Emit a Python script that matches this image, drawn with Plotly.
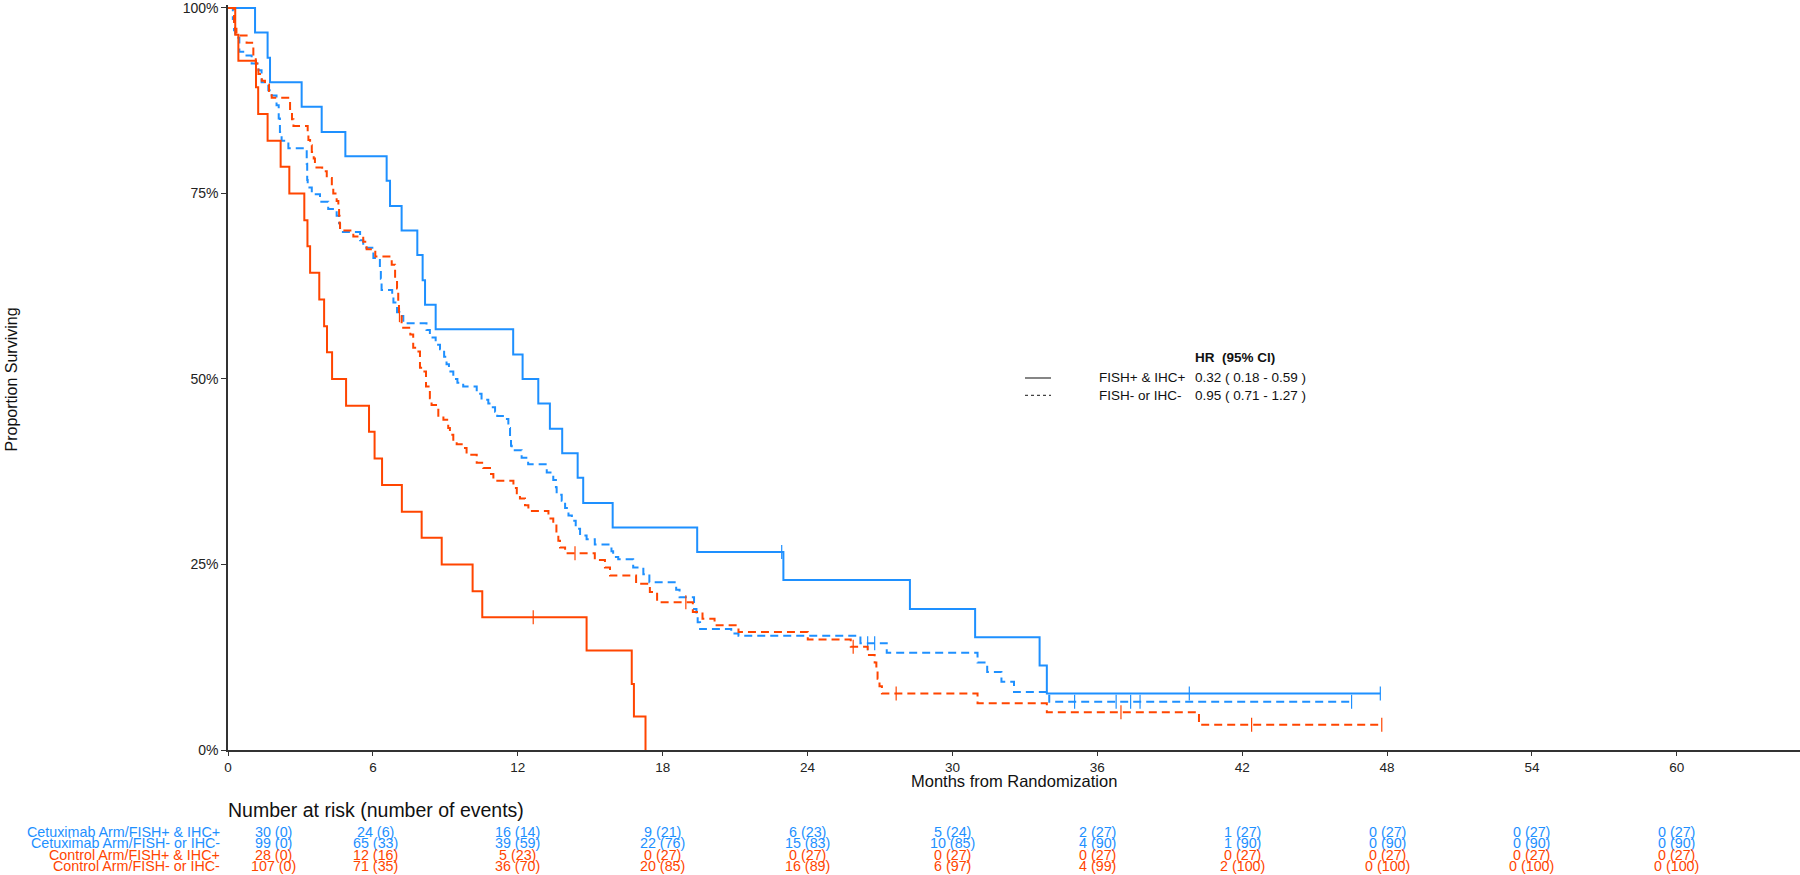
import plotly.graph_objects as go

# ---------------- data ----------------
# Cetuximab Arm / FISH+ & IHC+  (blue, solid)
cet_pos_t = [0, 1.12, 1.64, 1.74, 3.05, 3.88, 4.86, 6.57, 6.71, 7.19, 7.84, 8.06, 8.16, 8.60,
             11.81, 12.20, 12.85, 13.33, 13.84, 14.48, 14.71, 15.93, 19.43, 23.00, 28.24,
             30.94, 33.61, 33.91, 47.72]
cet_pos_s = [1.000, 0.967, 0.933, 0.900, 0.867, 0.833, 0.800, 0.767, 0.733, 0.700, 0.667,
             0.633, 0.600, 0.567, 0.533, 0.500, 0.467, 0.433, 0.400, 0.367, 0.333, 0.300,
             0.267, 0.229, 0.190, 0.152, 0.114, 0.076, 0.076]
cet_pos_cens = [22.93, 39.81, 47.72]

# Cetuximab Arm / FISH- or IHC-  (blue, dashed)
cet_neg_t = [0, 0.20, 0.25, 0.30, 0.47, 0.70, 0.98, 1.26, 1.39, 1.67, 1.81, 2.01, 2.10, 2.15,
             2.22, 2.50, 3.26, 3.28, 3.30, 3.47, 3.81, 4.15, 4.50, 4.60, 4.64, 5.47, 5.60,
             6.02, 6.29, 6.33, 6.36, 6.80, 6.85, 7.00, 7.10, 7.26, 8.22, 8.36, 8.60, 8.78,
             8.95, 9.05, 9.15, 9.33, 9.50, 9.74, 10.30, 10.50, 10.78, 10.92, 11.06, 11.15,
             11.47, 11.61, 11.68, 11.72, 11.75, 12.16, 12.43, 13.20, 13.47, 13.58, 13.61,
             13.82, 13.96, 14.10, 14.24, 14.40, 14.58, 14.85, 15.19, 15.88, 15.95, 16.16,
             16.78, 17.20, 17.45, 18.56, 18.70, 19.30, 19.40, 19.45, 19.55, 20.84, 21.14,
             26.19, 27.28, 31.04, 31.44, 32.03, 32.55, 34.01, 46.53]
cet_neg_s = [1.000, 0.985, 0.970, 0.960, 0.941, 0.936, 0.925, 0.916, 0.900, 0.889, 0.882,
             0.869, 0.851, 0.833, 0.821, 0.811, 0.790, 0.768, 0.758, 0.749, 0.739, 0.729,
             0.720, 0.710, 0.698, 0.687, 0.677, 0.663, 0.650, 0.635, 0.620, 0.612, 0.603,
             0.590, 0.585, 0.575, 0.566, 0.556, 0.546, 0.540, 0.530, 0.520, 0.510, 0.500,
             0.495, 0.490, 0.480, 0.472, 0.467, 0.462, 0.456, 0.450, 0.446, 0.434, 0.420,
             0.410, 0.404, 0.394, 0.385, 0.374, 0.364, 0.354, 0.344, 0.336, 0.326, 0.316,
             0.309, 0.298, 0.289, 0.284, 0.277, 0.268, 0.260, 0.257, 0.246, 0.237, 0.226,
             0.216, 0.206, 0.190, 0.180, 0.172, 0.163, 0.157, 0.154, 0.144, 0.131, 0.118,
             0.105, 0.092, 0.078, 0.065, 0.065]
cet_neg_cens = [26.49, 26.78, 35.06, 36.78, 37.38, 37.77, 46.53]

# Control Arm / FISH+ & IHC+  (red, solid)
ctl_pos_t = [0, 0.30, 0.43, 1.16, 1.25, 1.64, 2.18, 2.54, 3.16, 3.29, 3.40, 3.78, 3.98, 4.10,
             4.31, 4.89, 5.84, 6.07, 6.38, 7.20, 8.02, 8.85, 10.13, 10.53, 14.85, 16.72,
             16.81, 17.29]
ctl_pos_s = [1.000, 0.964, 0.929, 0.893, 0.857, 0.821, 0.786, 0.750, 0.714, 0.679, 0.643,
             0.607, 0.571, 0.536, 0.500, 0.464, 0.429, 0.393, 0.357, 0.321, 0.286, 0.250,
             0.214, 0.179, 0.134, 0.089, 0.045, 0.000]
ctl_pos_cens = [12.64]

# Control Arm / FISH- or IHC-  (red, dashed)
ctl_neg_t = [0, 0.25, 0.29, 0.35, 0.77, 1.05, 1.15, 1.26, 1.40, 1.53, 1.70, 1.81, 2.57, 2.65,
             2.71, 3.30, 3.33, 3.40, 3.47, 3.55, 3.60, 3.90, 4.09, 4.30, 4.36, 4.50, 4.57,
             4.60, 4.62, 4.64, 5.19, 5.60, 5.74, 6.10, 6.78, 6.92, 7.00, 7.05, 7.08, 7.19,
             7.55, 7.67, 7.81, 7.95, 8.09, 8.20, 8.36, 8.43, 8.71, 8.92, 9.12, 9.19, 9.33,
             9.47, 9.74, 9.88, 10.30, 10.57, 10.85, 10.99, 11.82, 11.96, 12.09, 12.30, 12.44,
             13.27, 13.47, 13.60, 13.68, 13.75, 13.96, 15.19, 15.61, 15.82, 16.90, 17.47,
             17.77, 19.25, 19.65, 20.15, 21.14, 24.01, 25.79, 26.49, 26.78, 26.85, 26.90,
             26.98, 27.08, 31.04, 33.91, 40.21, 47.78]
ctl_neg_s = [1.000, 0.981, 0.972, 0.963, 0.953, 0.934, 0.925, 0.911, 0.902, 0.897, 0.888,
             0.879, 0.864, 0.850, 0.841, 0.832, 0.822, 0.815, 0.806, 0.797, 0.785, 0.780,
             0.771, 0.760, 0.750, 0.740, 0.730, 0.720, 0.710, 0.700, 0.692, 0.685, 0.675,
             0.665, 0.654, 0.636, 0.622, 0.600, 0.586, 0.569, 0.560, 0.542, 0.537, 0.515,
             0.510, 0.490, 0.474, 0.465, 0.448, 0.445, 0.434, 0.425, 0.416, 0.412, 0.407,
             0.398, 0.387, 0.380, 0.372, 0.363, 0.353, 0.344, 0.339, 0.330, 0.322, 0.312,
             0.305, 0.290, 0.282, 0.273, 0.265, 0.256, 0.246, 0.235, 0.224, 0.213, 0.199,
             0.186, 0.177, 0.168, 0.159, 0.149, 0.139, 0.128, 0.118, 0.107, 0.096, 0.086,
             0.076, 0.063, 0.051, 0.034, 0.034]
ctl_neg_cens = [7.10, 14.37, 18.96, 25.89, 27.67, 36.98, 42.39, 47.78]

# Number at risk table
risk_times = [0, 6, 12, 18, 24, 30, 36, 42, 48, 54, 60]
row_labels = ["Cetuximab Arm/FISH+ & IHC+", "Cetuximab Arm/FISH- or IHC-",
              "Control Arm/FISH+ & IHC+", "Control Arm/FISH- or IHC-"]
cet_pos_risk = [30, 24, 16, 9, 6, 5, 2, 1, 0, 0, 0]
cet_pos_events = [0, 6, 14, 21, 23, 24, 27, 27, 27, 27, 27]
cet_neg_risk = [99, 65, 39, 22, 15, 10, 4, 1, 0, 0, 0]
cet_neg_events = [0, 33, 59, 76, 83, 85, 90, 90, 90, 90, 90]
ctl_pos_risk = [28, 12, 5, 0, 0, 0, 0, 0, 0, 0, 0]
ctl_pos_events = [0, 16, 23, 27, 27, 27, 27, 27, 27, 27, 27]
ctl_neg_risk = [107, 71, 36, 20, 16, 6, 4, 2, 0, 0, 0]
ctl_neg_events = [0, 35, 70, 85, 89, 97, 99, 100, 100, 100, 100]

# Hazard ratios
hr_groups = ["FISH+ & IHC+", "FISH- or IHC-"]
hr_vals = [0.32, 0.95]
hr_lo = [0.18, 0.71]
hr_hi = [0.59, 1.27]

# ---------------- styling / layout constants ----------------
BLUE = "#1E90FF"
RED = "#FF4500"
W, H = 1800, 875
L, R, T, B = 228, 0, 2, 125
PH = H - T - B                 # plot height in px
FONT = "Arial, Liberation Sans, sans-serif"
risk_col_x = [1.9, 6.1, 12, 18, 24, 30, 36, 42, 48, 54, 60]
risk_row_y = [832, 843.5, 855, 866.5]


def px_x(X):
    return (X - L) / (W - L - R)


def px_y(Y):
    return (H - B - Y) / PH


def step_at(ts, ss, t):
    val = ss[0]
    for ti, si in zip(ts, ss):
        if ti <= t:
            val = si
    return val


fig = go.Figure()

curves = [
    (cet_pos_t, cet_pos_s, cet_pos_cens, BLUE, "solid", row_labels[0]),
    (cet_neg_t, cet_neg_s, cet_neg_cens, BLUE, "8px,5px", row_labels[1]),
    (ctl_pos_t, ctl_pos_s, ctl_pos_cens, RED, "solid", row_labels[2]),
    (ctl_neg_t, ctl_neg_s, ctl_neg_cens, RED, "8px,5px", row_labels[3]),
]
for ts, ss, cens, col, dash, name in curves:
    fig.add_trace(go.Scatter(x=ts, y=ss, mode="lines", line=dict(color=col, width=2, dash=dash, shape="hv"),
                             name=name, showlegend=False, hoverinfo="skip"))
    fig.add_trace(go.Scatter(x=cens, y=[step_at(ts, ss, c) for c in cens], mode="markers",
                             marker=dict(symbol="line-ns", size=10, line=dict(color=col, width=1.2)),
                             showlegend=False, hoverinfo="skip", cliponaxis=False))

annotations = []
# axis titles
annotations.append(dict(text="Months from Randomization", xref="paper", yref="paper", x=0.5, y=px_y(781),
                        xanchor="center", yanchor="middle", showarrow=False,
                        font=dict(family=FONT, size=16.5, color="#111")))
annotations.append(dict(text="Proportion Surviving", xref="paper", yref="paper", x=px_x(11), y=px_y(378),
                        xanchor="center", yanchor="middle", showarrow=False, textangle=-90,
                        font=dict(family=FONT, size=16, color="#111")))

# risk table
annotations.append(dict(text="Number at risk (number of events)", xref="paper", yref="paper",
                        x=px_x(226), y=px_y(810), xanchor="left", yanchor="middle", showarrow=False,
                        font=dict(family=FONT, size=19.5, color="#111")))
risk_rows = [(cet_pos_risk, cet_pos_events, BLUE), (cet_neg_risk, cet_neg_events, BLUE),
             (ctl_pos_risk, ctl_pos_events, RED), (ctl_neg_risk, ctl_neg_events, RED)]
for i, (nr, ne, col) in enumerate(risk_rows):
    yy = px_y(risk_row_y[i])
    annotations.append(dict(text=row_labels[i], xref="paper", yref="paper", x=px_x(222), y=yy,
                            xanchor="right", yanchor="middle", showarrow=False,
                            font=dict(family=FONT, size=14.3, color=col)))
    for j in range(len(risk_times)):
        annotations.append(dict(text=f"{nr[j]} ({ne[j]})", xref="x", yref="paper", x=risk_col_x[j], y=yy,
                                xanchor="center", yanchor="middle", showarrow=False,
                                font=dict(family=FONT, size=14.3, color=col)))

# HR legend
annotations.append(dict(text="<b>HR&nbsp; (95% CI)</b>", xref="paper", yref="paper", x=px_x(1193), y=px_y(356),
                        xanchor="left", yanchor="middle", showarrow=False,
                        font=dict(family=FONT, size=13.5, color="#111")))
legend_y = [376.5, 394]
shapes = []
for k in range(2):
    yy = px_y(legend_y[k])
    annotations.append(dict(text=hr_groups[k], xref="paper", yref="paper", x=px_x(1097), y=yy,
                            xanchor="left", yanchor="middle", showarrow=False,
                            font=dict(family=FONT, size=13.5, color="#111")))
    annotations.append(dict(text=f"{hr_vals[k]:.2f} ( {hr_lo[k]:.2f} - {hr_hi[k]:.2f} )", xref="paper",
                            yref="paper", x=px_x(1193), y=yy, xanchor="left", yanchor="middle",
                            showarrow=False, font=dict(family=FONT, size=13.5, color="#111")))
    shapes.append(dict(type="line", xref="paper", yref="paper", x0=px_x(1025), x1=px_x(1051),
                       y0=yy, y1=yy, line=dict(color="#444", width=1.3,
                                               dash="solid" if k == 0 else "3px,3px")))

fig.update_layout(
    width=W, height=H,
    margin=dict(l=L, r=R, t=T, b=B, pad=0),
    paper_bgcolor="white", plot_bgcolor="white",
    font=dict(family=FONT, color="#222"),
    showlegend=False,
    annotations=annotations,
    shapes=shapes,
    xaxis=dict(range=[0, 65.1], tickvals=risk_times, ticktext=[str(t) for t in risk_times],
               ticks="outside", ticklen=4, tickcolor="#333", tickwidth=1.2,
               showline=True, linecolor="#333", linewidth=1.5, showgrid=False, zeroline=False,
               tickfont=dict(family=FONT, size=13.5, color="#222")),
    yaxis=dict(range=[0, 1.004], tickvals=[0, 0.25, 0.5, 0.75, 1.0],
               ticktext=["0%", "25%", "50%", "75%", "100%"],
               ticks="outside", ticklen=5, tickcolor="#333", tickwidth=1.2,
               ticklabeloverflow="allow",
               showline=True, linecolor="#333", linewidth=1.5, showgrid=False, zeroline=False,
               tickfont=dict(family=FONT, size=14, color="#222")),
)

fig.write_html("out.html", config={"displayModeBar": False},
               post_script="document.body.style.margin='0';")
